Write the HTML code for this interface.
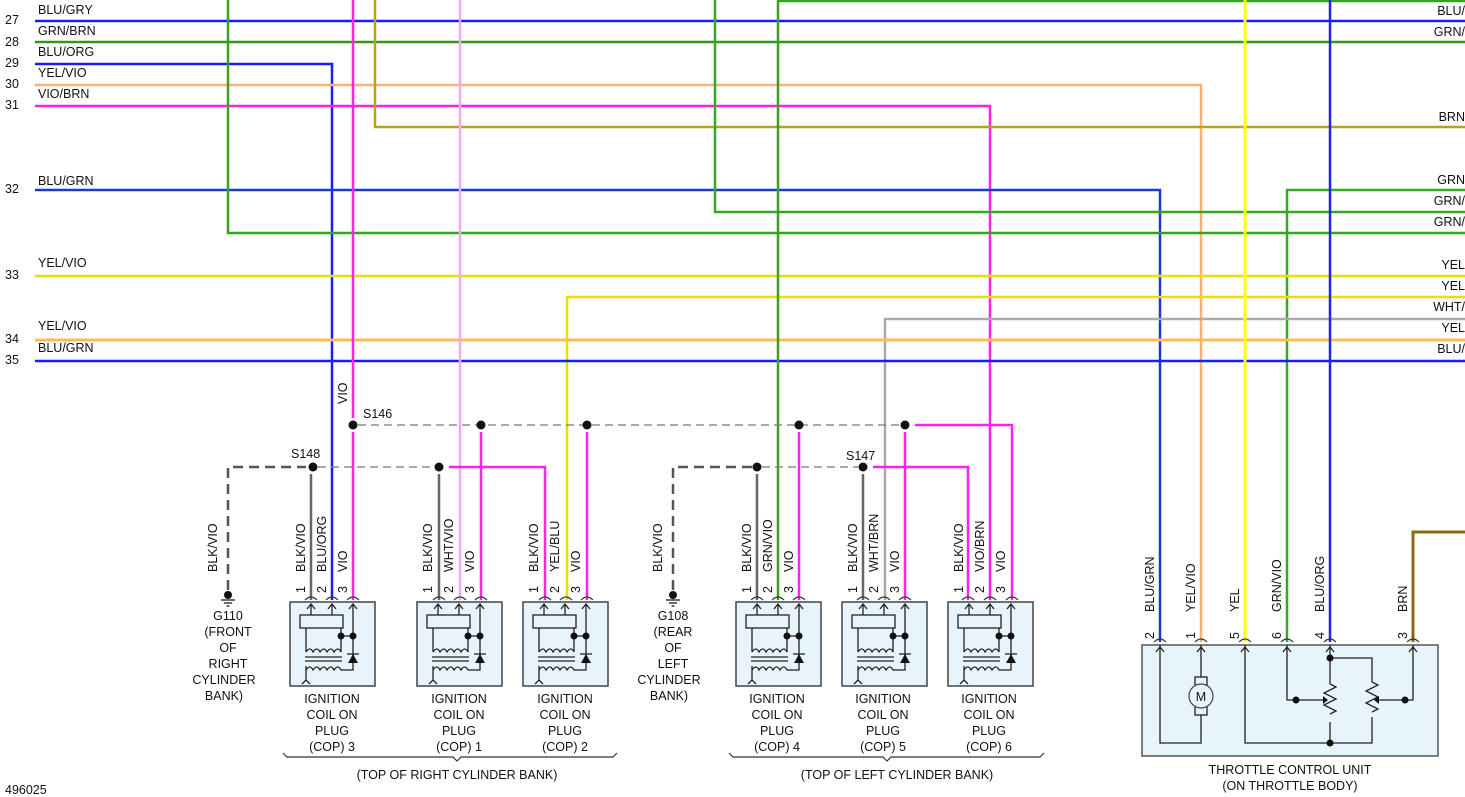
<!DOCTYPE html>
<html><head><meta charset="utf-8"><style>
html,body{margin:0;padding:0;background:#fff;}
svg{display:block;font-family:"Liberation Sans",sans-serif;}
text{font-size:12.5px;fill:#111;}
</style></head><body>
<svg width="1465" height="797" viewBox="0 0 1465 797" xmlns="http://www.w3.org/2000/svg">
<defs>
<g id="coil">
<rect x="0" y="0" width="85" height="84" fill="#e8f4fb" stroke="#444" stroke-width="1.5"/>
<g fill="none" stroke="#222" stroke-width="1.3">
<path d="M21 13V2M17 7l4-5 4 5M42 13V2M38 7l4-5 4 5M63 60V2M59 7l4-5 4 5"/>
<rect x="10" y="13" width="43" height="13" fill="#e8f4fb"/>
<path d="M16 26V50M51 26V50M51 34H63"/>
<path d="M16 50q4-6 7 0q4-6 7 0q4-6 7 0q4-6 7 0q4-6 7 0"/>
<path d="M15 55H52M15 59H52"/>
<path d="M16 68q4-6 7 0q4-6 7 0q4-6 7 0q4-6 7 0q4-6 7 0H63V60"/>
<path d="M16 64V78M12 82l4-4 4 4"/>
<path d="M57 52H69"/>
</g>
<path d="M63 52l-5 9h10z" fill="#111"/>
<circle cx="51" cy="34" r="3.5" fill="#111"/><circle cx="63" cy="34" r="3.5" fill="#111"/>
</g>
<g id="gnd"><circle cx="0" cy="0" r="4" fill="#111"/><path d="M-7 5H7M-4 8H4M-1.5 11H1.5" stroke="#111" stroke-width="1.2"/></g>
</defs>

<g fill="none" stroke-width="2.5">
<path d="M35 21H1465" stroke="#1a1aff"/>
<path d="M35 42H1465" stroke="#2e9a10"/>
<path d="M35 64H332V600" stroke="#1a1aff"/>
<path d="M35 85H1201V642" stroke="#ffb070"/>
<path d="M35 106H990V600" stroke="#ff22dd"/>
<path d="M375 0V127H1465" stroke="#b8a020"/>
<path d="M35 190H1160V642" stroke="#1a3acc"/>
<path d="M1465 190H1287V642" stroke="#33aa22"/>
<path d="M715 0V212H1465" stroke="#33aa22"/>
<path d="M228 0V233H1465" stroke="#3aa020"/>
<path d="M35 276H1465" stroke="#e8e000"/>
<path d="M1465 297H567V600" stroke="#e8e000"/>
<path d="M1465 319H885V600" stroke="#aaaaaa"/>
<path d="M35 340H1465" stroke="#ffbb55" stroke-width="3"/>
<path d="M35 361H1465" stroke="#1a1aff"/>
<path d="M778 600V1H1465" stroke="#3aa020"/>
<path d="M353 0V418M353 432V600" stroke="#ff22ee"/>
<path d="M460 0V600" stroke="#f0a8f0"/>
<path d="M1245 0V642" stroke="#ffff00" stroke-width="3"/>
<path d="M1330 0V642" stroke="#2222ee"/>
<path d="M1413 642V532H1465" stroke="#8a6a10" stroke-width="3"/>
<path d="M481 432V600M587 432V600M799 432V600M905 432V600" stroke="#ff22ee"/>
<path d="M915 425H1012V600" stroke="#ff22ee"/>
<path d="M449 467H545V600" stroke="#ff22ee"/>
<path d="M873 467H968V600" stroke="#ff22ee"/>
<path d="M311 474V600M439 474V600M757 474V600M863 474V600" stroke="#666"/>
</g>
<g fill="none" stroke="#777" stroke-width="1.2" stroke-dasharray="8,5">
<path d="M358 425H900"/><path d="M318 467H434"/><path d="M762 467H858"/>
</g>
<g fill="none" stroke="#555" stroke-width="2.5" stroke-dasharray="10,6">
<path d="M228 590V467H306"/><path d="M673 590V467H752"/>
</g>
<g fill="#111">
<circle cx="353" cy="425" r="4.5"/><circle cx="481" cy="425" r="4.5"/><circle cx="587" cy="425" r="4.5"/><circle cx="799" cy="425" r="4.5"/><circle cx="905" cy="425" r="4.5"/>
<circle cx="313" cy="467" r="4.5"/><circle cx="439" cy="467" r="4.5"/><circle cx="757" cy="467" r="4.5"/><circle cx="863" cy="467" r="4.5"/>
</g>
<use href="#gnd" x="228" y="595"/><use href="#gnd" x="673" y="595"/>

<g>
<text x="38" y="14">BLU/GRY</text><text x="38" y="35">GRN/BRN</text><text x="38" y="56">BLU/ORG</text>
<text x="38" y="77">YEL/VIO</text><text x="38" y="98">VIO/BRN</text><text x="38" y="185">BLU/GRN</text>
<text x="38" y="267">YEL/VIO</text><text x="38" y="330">YEL/VIO</text><text x="38" y="352">BLU/GRN</text>
<text x="5" y="24">27</text><text x="5" y="46">28</text><text x="5" y="67">29</text><text x="5" y="88">30</text><text x="5" y="109">31</text>
<text x="5" y="193">32</text><text x="5" y="279">33</text><text x="5" y="343">34</text><text x="5" y="364">35</text>
</g>
<g text-anchor="end">
<text x="1465" y="15">BLU/</text><text x="1465" y="36">GRN/</text><text x="1465" y="121">BRN</text>
<text x="1465" y="184">GRN</text><text x="1465" y="205">GRN/</text><text x="1465" y="226">GRN/</text>
<text x="1465" y="269">YEL</text><text x="1465" y="290">YEL</text><text x="1465" y="311">WHT/</text>
<text x="1465" y="332">YEL</text><text x="1465" y="353">BLU/</text>
</g>
<text x="363" y="418">S146</text><text x="291" y="458">S148</text><text x="846" y="460">S147</text>
<text transform="translate(347,404) rotate(-90)">VIO</text>

<g>
<text transform="translate(217,572) rotate(-90)">BLK/VIO</text>
<text transform="translate(662,572) rotate(-90)">BLK/VIO</text>
<text transform="translate(305,572) rotate(-90)">BLK/VIO</text><text transform="translate(326,572) rotate(-90)">BLU/ORG</text><text transform="translate(347,572) rotate(-90)">VIO</text>
<text transform="translate(432,572) rotate(-90)">BLK/VIO</text><text transform="translate(453,572) rotate(-90)">WHT/VIO</text><text transform="translate(474,572) rotate(-90)">VIO</text>
<text transform="translate(538,572) rotate(-90)">BLK/VIO</text><text transform="translate(559,572) rotate(-90)">YEL/BLU</text><text transform="translate(580,572) rotate(-90)">VIO</text>
<text transform="translate(751,572) rotate(-90)">BLK/VIO</text><text transform="translate(772,572) rotate(-90)">GRN/VIO</text><text transform="translate(793,572) rotate(-90)">VIO</text>
<text transform="translate(857,572) rotate(-90)">BLK/VIO</text><text transform="translate(878,572) rotate(-90)">WHT/BRN</text><text transform="translate(899,572) rotate(-90)">VIO</text>
<text transform="translate(963,572) rotate(-90)">BLK/VIO</text><text transform="translate(984,572) rotate(-90)">VIO/BRN</text><text transform="translate(1005,572) rotate(-90)">VIO</text>
<text transform="translate(1154,612) rotate(-90)">BLU/GRN</text><text transform="translate(1195,612) rotate(-90)">YEL/VIO</text><text transform="translate(1239,612) rotate(-90)">YEL</text>
<text transform="translate(1281,612) rotate(-90)">GRN/VIO</text><text transform="translate(1324,612) rotate(-90)">BLU/ORG</text><text transform="translate(1407,612) rotate(-90)">BRN</text>
</g>
<g>
<text transform="translate(305,593) rotate(-90)">1</text><text transform="translate(326,593) rotate(-90)">2</text><text transform="translate(347,593) rotate(-90)">3</text>
<text transform="translate(432,593) rotate(-90)">1</text><text transform="translate(453,593) rotate(-90)">2</text><text transform="translate(474,593) rotate(-90)">3</text>
<text transform="translate(538,593) rotate(-90)">1</text><text transform="translate(559,593) rotate(-90)">2</text><text transform="translate(580,593) rotate(-90)">3</text>
<text transform="translate(751,593) rotate(-90)">1</text><text transform="translate(772,593) rotate(-90)">2</text><text transform="translate(793,593) rotate(-90)">3</text>
<text transform="translate(857,593) rotate(-90)">1</text><text transform="translate(878,593) rotate(-90)">2</text><text transform="translate(899,593) rotate(-90)">3</text>
<text transform="translate(963,593) rotate(-90)">1</text><text transform="translate(984,593) rotate(-90)">2</text><text transform="translate(1005,593) rotate(-90)">3</text>
<text transform="translate(1154,639) rotate(-90)">2</text><text transform="translate(1195,639) rotate(-90)">1</text><text transform="translate(1239,639) rotate(-90)">5</text>
<text transform="translate(1281,639) rotate(-90)">6</text><text transform="translate(1324,639) rotate(-90)">4</text><text transform="translate(1407,639) rotate(-90)">3</text>
</g>
<g fill="none" stroke="#333" stroke-width="1.2">
<path d="M305 600q6-6 12 0M326 600q6-6 12 0M347 600q6-6 12 0M433 600q6-6 12 0M454 600q6-6 12 0M475 600q6-6 12 0M539 600q6-6 12 0M560 600q6-6 12 0M581 600q6-6 12 0"/>
<path d="M751 600q6-6 12 0M772 600q6-6 12 0M793 600q6-6 12 0M857 600q6-6 12 0M878 600q6-6 12 0M899 600q6-6 12 0M962 600q6-6 12 0M984 600q6-6 12 0M1006 600q6-6 12 0"/>
<path d="M1154 642q6-6 12 0M1195 642q6-6 12 0M1239 642q6-6 12 0M1281 642q6-6 12 0M1324 642q6-6 12 0M1407 642q6-6 12 0"/>
</g>

<use href="#coil" x="290" y="602"/><use href="#coil" x="417" y="602"/><use href="#coil" x="523" y="602"/>
<use href="#coil" x="736" y="602"/><use href="#coil" x="842" y="602"/><use href="#coil" x="948" y="602"/>

<g text-anchor="middle">
<text x="228" y="620">G110</text><text x="228" y="636">(FRONT</text><text x="228" y="652">OF</text><text x="228" y="668">RIGHT</text><text x="224" y="684">CYLINDER</text><text x="224" y="700">BANK)</text>
<text x="673" y="620">G108</text><text x="673" y="636">(REAR</text><text x="673" y="652">OF</text><text x="673" y="668">LEFT</text><text x="669" y="684">CYLINDER</text><text x="669" y="700">BANK)</text>
<text x="332" y="703">IGNITION</text><text x="332" y="719">COIL ON</text><text x="332" y="735">PLUG</text><text x="332" y="751">(COP) 3</text>
<text x="459" y="703">IGNITION</text><text x="459" y="719">COIL ON</text><text x="459" y="735">PLUG</text><text x="459" y="751">(COP) 1</text>
<text x="565" y="703">IGNITION</text><text x="565" y="719">COIL ON</text><text x="565" y="735">PLUG</text><text x="565" y="751">(COP) 2</text>
<text x="777" y="703">IGNITION</text><text x="777" y="719">COIL ON</text><text x="777" y="735">PLUG</text><text x="777" y="751">(COP) 4</text>
<text x="883" y="703">IGNITION</text><text x="883" y="719">COIL ON</text><text x="883" y="735">PLUG</text><text x="883" y="751">(COP) 5</text>
<text x="989" y="703">IGNITION</text><text x="989" y="719">COIL ON</text><text x="989" y="735">PLUG</text><text x="989" y="751">(COP) 6</text>
<text x="457" y="779">(TOP OF RIGHT CYLINDER BANK)</text>
<text x="897" y="779">(TOP OF LEFT CYLINDER BANK)</text>
<text x="1290" y="774">THROTTLE CONTROL UNIT</text><text x="1290" y="790">(ON THROTTLE BODY)</text>
</g>
<text x="5" y="794">496025</text>
<g fill="none" stroke="#333" stroke-width="1.2">
<path d="M283 753l4 4H453l4 4 4-4H613l4-4"/>
<path d="M729 753l4 4H883l4 4 4-4H1040l4-4"/>
</g>

<rect x="1142" y="645" width="296" height="111" fill="#e8f4fb" stroke="#555" stroke-width="1.5"/>
<g fill="none" stroke="#222" stroke-width="1.3">
<path d="M1160 645V743H1201V715M1201 645V677"/>
<path d="M1156 652l4-5 4 5M1197 652l4-5 4 5M1241 652l4-5 4 5M1283 652l4-5 4 5M1326 652l4-5 4 5M1409 652l4-5 4 5"/>
<path d="M1245 645V743H1372V717M1330 645V684M1330 722V743"/>
<path d="M1330 658H1372V682"/>
<path d="M1287 645V700H1323M1413 645V700H1379"/>
<path d="M1330 684l6 3-12 6 12 6-12 6 12 6-6 3"/>
<path d="M1372 682l6 3-12 6 12 6-12 6 12 6-6 3"/>
<rect x="1195" y="677" width="12" height="38"/>
</g>
<circle cx="1201" cy="696" r="12" fill="#e8f4fb" stroke="#444" stroke-width="1.2"/>
<text x="1201" y="701" text-anchor="middle" font-size="14">M</text>
<path d="M1323 696v8l5-4z M1379 696v8l-5-4z" fill="#111"/>
<g fill="#111"><circle cx="1330" cy="658" r="3.5"/><circle cx="1330" cy="743" r="3.5"/><circle cx="1296" cy="700" r="3.5"/><circle cx="1405" cy="700" r="3.5"/></g>
</svg>
</body></html>
